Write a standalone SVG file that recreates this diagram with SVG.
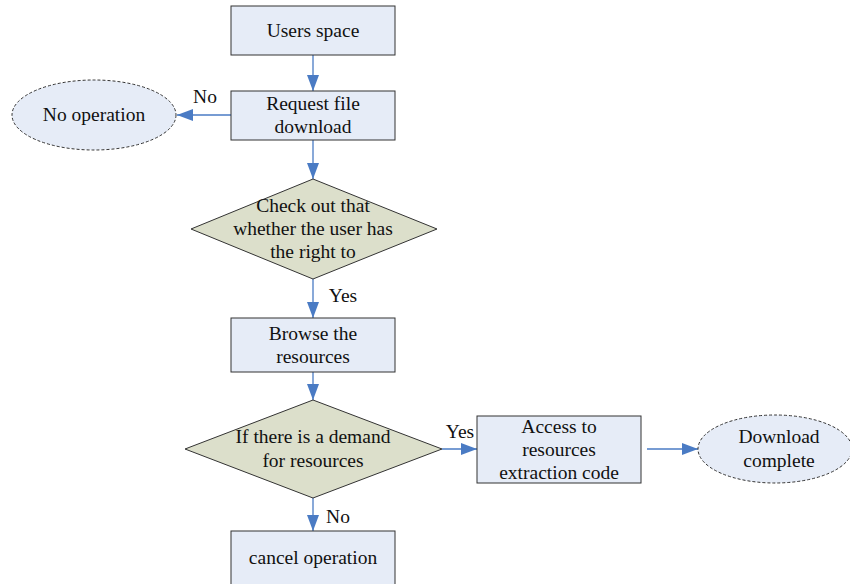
<svg xmlns="http://www.w3.org/2000/svg" width="850" height="584" viewBox="0 0 850 584">
<style>
.box{fill:#e6ecf7;stroke:#333;stroke-width:1}
.dia{fill:#dcdfcb;stroke:#333;stroke-width:1}
.ell{fill:#e6ecf7;stroke:#333;stroke-width:1;stroke-dasharray:3,2}
.t{font-family:"Liberation Serif",serif;font-size:19.5px;fill:#111;text-anchor:middle}
.c{stroke:#4a7bc4;stroke-width:1.3;fill:none;marker-end:url(#ah)}
</style>
<defs>
<marker id="ah" viewBox="0 0 16 12" refX="16" refY="6" markerWidth="16" markerHeight="12" markerUnits="userSpaceOnUse" orient="auto">
<path d="M0,0 L16,6 L0,12 Z" fill="#4a7bc4"/>
</marker>
</defs>
<g id="connectors">
<line class="c" x1="313" y1="55" x2="313" y2="91"/>
<line class="c" x1="231" y1="115" x2="177" y2="115"/>
<line class="c" x1="313" y1="140" x2="313" y2="179"/>
<line class="c" x1="313" y1="279" x2="313" y2="318"/>
<line class="c" x1="313" y1="372" x2="313" y2="400"/>
<line class="c" x1="442" y1="449" x2="477" y2="449"/>
<line class="c" x1="313" y1="498" x2="313" y2="531"/>
<line class="c" x1="647" y1="449" x2="698" y2="449"/>
<text class="t" x="205" y="103">No</text>
<text class="t" x="343" y="302">Yes</text>
<text class="t" x="460" y="438">Yes</text>
<text class="t" x="338" y="523">No</text>
</g>
<g id="users-space">
<rect class="box" x="231" y="6" width="164" height="49"/>
<text class="t" x="313" y="37">Users space</text>
</g>
<g id="request-file">
<rect class="box" x="231" y="91" width="164" height="49"/>
<text class="t" x="313" y="110">Request file</text>
<text class="t" x="313" y="133">download</text>
</g>
<g id="no-operation">
<ellipse class="ell" cx="94" cy="115" rx="82" ry="35"/>
<text class="t" x="94" y="121">No operation</text>
</g>
<g id="check-right">
<polygon class="dia" points="313,179 437,229 313,279 191,229"/>
<text class="t" x="313" y="212">Check out that</text>
<text class="t" x="313" y="235">whether the user has</text>
<text class="t" x="313" y="258">the right to</text>
</g>
<g id="browse">
<rect class="box" x="231" y="318" width="164" height="54"/>
<text class="t" x="313" y="340">Browse the</text>
<text class="t" x="313" y="363">resources</text>
</g>
<g id="demand">
<polygon class="dia" points="313,400 442,449 313,498 185,449"/>
<text class="t" x="313" y="443">If there is a demand</text>
<text class="t" x="313" y="467">for resources</text>
</g>
<g id="access-code">
<rect class="box" x="477" y="416" width="164" height="67"/>
<text class="t" x="559" y="433">Access to</text>
<text class="t" x="559" y="456">resources</text>
<text class="t" x="559" y="479">extraction code</text>
</g>
<g id="download-complete">
<ellipse class="ell" cx="775" cy="449" rx="77" ry="34"/>
<text class="t" x="779" y="443">Download</text>
<text class="t" x="779" y="467">complete</text>
</g>
<g id="cancel">
<rect class="box" x="231" y="531" width="164" height="60"/>
<text class="t" x="313" y="564">cancel operation</text>
</g>
</svg>
